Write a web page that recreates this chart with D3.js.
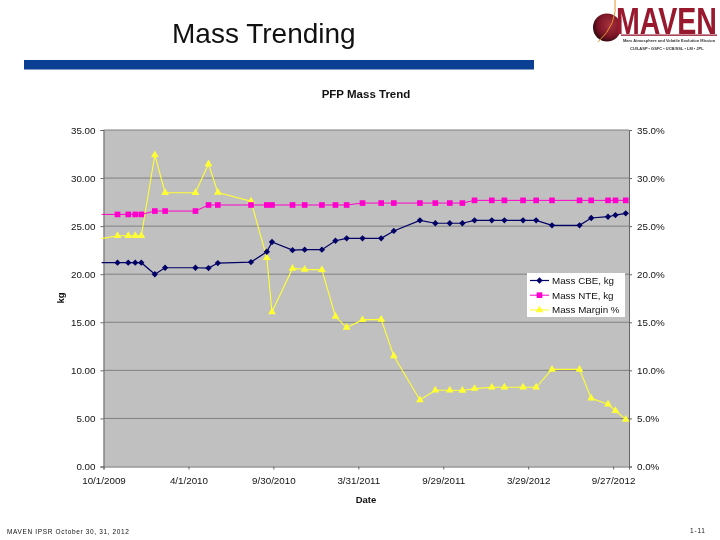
<!DOCTYPE html>
<html><head><meta charset="utf-8">
<style>html,body{margin:0;padding:0;background:#fff}svg{display:block;filter:blur(0.35px)}text{font-family:"Liberation Sans",Arial,sans-serif}</style>
<script src="https://cdn.jsdelivr.net/npm/d3@7"></script></head><body>
<script>
const dates = ["2009-09-27","2009-10-31","2009-11-23","2009-12-08","2009-12-21","2010-01-19","2010-02-10","2010-04-16","2010-05-14","2010-06-03","2010-08-13","2010-09-16","2010-09-27","2010-11-10","2010-12-06","2011-01-12","2011-02-10","2011-03-06","2011-04-09","2011-05-19","2011-06-15","2011-08-10","2011-09-12","2011-10-13","2011-11-09","2011-12-05","2012-01-11","2012-02-07","2012-03-18","2012-04-15","2012-05-19","2012-07-17","2012-08-11","2012-09-16","2012-10-02","2012-10-24"];
const massCBE = [21.2,21.2,21.2,21.2,21.2,20.0,20.67,20.67,20.64,21.16,21.26,22.34,23.35,22.5,22.55,22.55,23.48,23.73,23.73,23.73,24.5,25.6,25.3,25.3,25.3,25.6,25.6,25.6,25.6,25.6,25.08,25.08,25.85,25.98,26.15,26.33];
const massNTE = [26.22,26.22,26.22,26.22,26.22,26.57,26.57,26.57,27.2,27.2,27.2,27.2,27.2,27.2,27.2,27.2,27.2,27.2,27.4,27.4,27.4,27.4,27.4,27.4,27.4,27.68,27.68,27.68,27.68,27.68,27.68,27.68,27.68,27.68,27.68,27.68];
const massMargin = [23.7,24,24,24,24,32.4,28.48,28.48,31.46,28.5,27.6,21.7,16.08,20.6,20.5,20.45,15.6,14.45,15.25,15.3,11.5,6.92,7.93,7.93,7.9,8.1,8.24,8.24,8.24,8.24,10.1,10.1,7.1,6.47,5.8,4.9];
const xTickDates = ["2009-10-01","2010-04-01","2010-09-30","2011-03-31","2011-09-29","2012-03-29","2012-09-27"];
const yTicks = [0,5,10,15,20,25,30,35];
const seriesNames = ["Mass CBE, kg","Mass NTE, kg","Mass Margin %"];
const seriesColors = ["#000066","#ff00cc","#ffff33"];

const W=720,H=540, L=103.5,R=629,T=130,B=466.5;
const parse=d3.utcParse("%Y-%m-%d"), fmt=d3.utcFormat("%-m/%-d/%Y");
const svg=d3.select("body").append("svg").attr("width",W).attr("height",H);

// slide furniture
svg.append("text").attr("x",172).attr("y",43).attr("font-size",28).attr("fill","#111").text("Mass Trending");
svg.append("rect").attr("x",24).attr("y",60).attr("width",510).attr("height",9.5).attr("fill","#0b3f93");

// logo
const logo=svg.append("g");
const grad=svg.append("defs").append("radialGradient").attr("id","gl").attr("cx","0.6").attr("cy","0.4").attr("r","0.7");
grad.append("stop").attr("offset","0").attr("stop-color","#a8323f");
grad.append("stop").attr("offset","0.6").attr("stop-color","#7a1526");
grad.append("stop").attr("offset","1").attr("stop-color","#1a0508");
logo.append("circle").attr("cx",607).attr("cy",27.5).attr("r",14).attr("fill","url(#gl)");
logo.append("path").attr("d","M615 0Q618 24 598 42").attr("fill","none").attr("stroke","#e8962a").attr("stroke-width",1);
logo.append("text").attr("transform","translate(616,34) scale(0.985,1.29)").attr("font-size",29).attr("font-weight","bold").attr("fill","#98182e").text("MAVEN");
logo.append("rect").attr("x",621).attr("y",34.5).attr("width",96).attr("height",1.3).attr("fill","#98182e");
logo.append("text").attr("x",623).attr("y",41.5).attr("font-size",4).attr("font-weight","bold").attr("fill","#333").text("Mars Atmosphere and Volatile Evolution Mission");
logo.append("text").attr("x",630).attr("y",50).attr("font-size",4).attr("font-weight","bold").attr("fill","#333").text("CU/LASP • GSFC • UCB/SSL • LM • JPL");

// scales
const x=d3.scaleUtc().domain([parse("2009-10-01"),parse("2012-10-31")]).range([L,R]);
const y=d3.scaleLinear().domain([0,35]).range([B,T]);

// plot
svg.append("rect").attr("x",L).attr("y",T).attr("width",R-L).attr("height",B-T).attr("fill","#c0c0c0");
svg.append("g").selectAll("line").data(yTicks.filter(v=>v>0&&v<35)).join("line")
  .attr("x1",L).attr("x2",R).attr("y1",d=>y(d)).attr("y2",d=>y(d)).attr("stroke","#808080").attr("stroke-width",1);
svg.append("line").attr("x1",L).attr("x2",R).attr("y1",T).attr("y2",T).attr("stroke","#808080");

function styleAxis(g){g.selectAll("path,line").attr("stroke","#666").attr("stroke-width",1);
  g.selectAll("text").attr("font-size",9.8).attr("fill","#111").attr("font-family","'Liberation Sans',Arial,sans-serif");}
svg.append("g").attr("transform",`translate(${L},0)`)
  .call(d3.axisLeft(y).tickValues(yTicks).tickFormat(d3.format(".2f")).tickSizeOuter(0).tickSize(3).tickPadding(5)).call(styleAxis);
svg.append("g").attr("transform",`translate(${R},0)`)
  .call(d3.axisRight(y).tickValues(yTicks).tickFormat(d=>d3.format(".1f")(d)+"%").tickSizeOuter(0).tickSize(3).tickPadding(5)).call(styleAxis);
svg.append("g").attr("transform",`translate(0,${B})`)
  .call(d3.axisBottom(x).tickValues(xTickDates.map(parse)).tickFormat(fmt).tickSizeOuter(0).tickSize(3).tickPadding(8)).call(styleAxis);

// series
const xs=dates.map(parse);
const line=d3.line().x((d,i)=>x(xs[i])).y(d=>y(d));
const allSeries=[massCBE,massNTE,massMargin];
const squareSymbol={draw(c,s){const r=Math.sqrt(s)/2;c.moveTo(-r,-r);c.lineTo(r,-r);c.lineTo(r,r);c.lineTo(-r,r);c.closePath();}};
const wideDiamond={draw(c,s){const r=Math.sqrt(s/2);c.moveTo(0,-r);c.lineTo(r,0);c.lineTo(0,r);c.lineTo(-r,0);c.closePath();}};
const symbols=[wideDiamond,squareSymbol,d3.symbolTriangle];
const sizes=[20,32,26];
const widths=[1.2,1,1.1];
const order=[2,1,0];
order.forEach(k=>{
  svg.append("path").datum(allSeries[k]).attr("d",line).attr("fill","none").attr("stroke",seriesColors[k]).attr("stroke-width",widths[k]);
  svg.append("g").selectAll("path").data(allSeries[k].slice(1)).join("path")
    .attr("transform",(d,i)=>`translate(${x(xs[i+1])},${y(d)})`)
    .attr("d",d3.symbol().type(symbols[k]).size(sizes[k])).attr("fill",seriesColors[k]);
});

// titles
svg.append("text").attr("x",366).attr("y",98).attr("text-anchor","middle").attr("font-size",11.5).attr("font-weight","bold").attr("fill","#111").text("PFP Mass Trend");
svg.append("text").attr("x",366).attr("y",502.5).attr("text-anchor","middle").attr("font-size",9.5).attr("font-weight","bold").attr("fill","#111").text("Date");
svg.append("text").attr("transform","translate(64,298) rotate(-90)").attr("text-anchor","middle").attr("font-size",9.5).attr("font-weight","bold").attr("fill","#111").text("kg");

// legend
const lg=svg.append("g");
lg.append("rect").attr("x",527).attr("y",273).attr("width",98).attr("height",44).attr("fill","#fff");
seriesNames.forEach((n,k)=>{
  const ly=280.5+k*14.7;
  lg.append("line").attr("x1",530).attr("x2",549).attr("y1",ly).attr("y2",ly).attr("stroke",seriesColors[k]).attr("stroke-width",widths[k]);
  lg.append("path").attr("transform",`translate(539.5,${ly})`).attr("d",d3.symbol().type(symbols[k]).size(sizes[k])).attr("fill",seriesColors[k]);
  lg.append("text").attr("x",552).attr("y",ly+3.4).attr("font-size",9.8).attr("fill","#111").text(n);
});

// footer
svg.append("text").attr("x",7).attr("y",534).attr("font-size",6.5).attr("letter-spacing",0.65).attr("fill","#111").text("MAVEN IPSR October 30, 31, 2012");
svg.append("text").attr("x",690).attr("y",533).attr("font-size",6.5).attr("letter-spacing",0.8).attr("fill","#111").text("1-11");
</script></body></html>
